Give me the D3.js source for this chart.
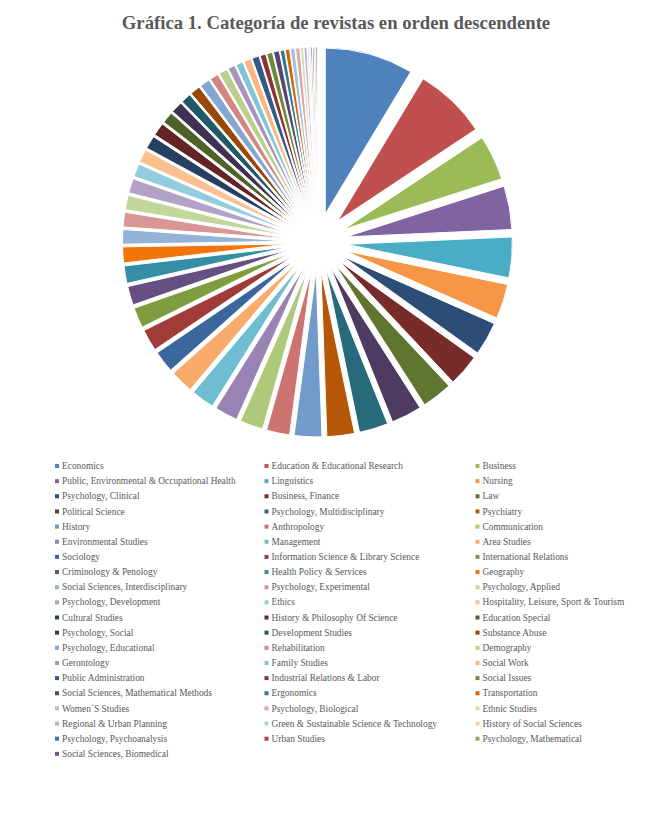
<!DOCTYPE html>
<html>
<head>
<meta charset="utf-8">
<script src="https://cdn.jsdelivr.net/npm/d3@7"></script>
<style>
  body { margin: 0; background: #fff; }
</style>
</head>
<body>
<div id="grafica"></div>
<script>
// categorias WoS, en el orden del grafico (descendente)
var categorias = [
  "Economics", "Education & Educational Research", "Business",
  "Public, Environmental & Occupational Health", "Linguistics", "Nursing",
  "Psychology, Clinical", "Business, Finance", "Law",
  "Political Science", "Psychology, Multidisciplinary", "Psychiatry",
  "History", "Anthropology", "Communication",
  "Environmental Studies", "Management", "Area Studies",
  "Sociology", "Information Science & Library Science", "International Relations",
  "Criminology & Penology", "Health Policy & Services", "Geography",
  "Social Sciences, Interdisciplinary", "Psychology, Experimental", "Psychology, Applied",
  "Psychology, Development", "Ethics", "Hospitality, Leisure, Sport & Tourism",
  "Cultural Studies", "History & Philosophy Of Science", "Education Special",
  "Psychology, Social", "Development Studies", "Substance Abuse",
  "Psychology, Educational", "Rehabilitation", "Demography",
  "Gerontology", "Family Studies", "Social Work",
  "Public Administration", "Industrial Relations & Labor", "Social Issues",
  "Social Sciences, Mathematical Methods", "Ergonomics", "Transportation",
  "Women´S Studies", "Psychology, Biological", "Ethnic Studies",
  "Regional & Urban Planning", "Green & Sustainable Science & Technology", "History of Social Sciences",
  "Psychology, Psychoanalysis", "Urban Studies", "Psychology, Mathematical",
  "Social Sciences, Biomedical"
];

// numero de revistas por categoria
var revistas = [
  61, 50, 31, 30, 28, 24, 23, 22, 21, 21,
  20, 19, 19, 16, 16, 16, 16, 16, 15, 15,
  14, 13, 12, 11, 10, 10, 10, 10, 9, 9,
  9, 9, 8, 8, 7, 7, 7, 6, 6, 5,
  5, 5, 5, 4, 4, 4, 3, 3, 3, 3,
  2, 2, 1, 1, 1, 1, 1, 1
];

// paleta de Office: 6 acentos y sus variaciones de luminosidad
var acentos = ["#4F81BD", "#C0504D", "#9BBB59", "#8064A2", "#4BACC6", "#F79646"];
var variaciones = [
  [1, 0], [0.6, 0], [0.8, 0.2], [0.8, 0], [0.6, 0.4],
  [0.5, 0], [0.7, 0.3], [0.7, 0], [0.5, 0.5], [0.9, 0]
];

function colorDe(i) {
  var c = d3.hsl(acentos[i % 6]);
  var v = variaciones[Math.floor(i / 6) % variaciones.length];
  c.l = c.l * v[0] + v[1];
  return c.formatHex();
}

var width = 672, height = 827;
var cx = 317.5, cy = 242, radio = 166, separacion = 29;

var svg = d3.select("#grafica")
  .append("svg")
    .attr("width", width)
    .attr("height", height)
    .style("font-family", "'Liberation Serif', 'Times New Roman', serif");

// titulo
svg.append("text")
  .attr("x", 336)
  .attr("y", 29)
  .attr("text-anchor", "middle")
  .style("font-size", "18.7px")
  .style("font-weight", "bold")
  .style("fill", "#595959")
  .text("Gráfica 1. Categoría de revistas en orden descendente");

// pastel con todas las porciones separadas
var pie = d3.pie().sort(null).value(function(d) { return d; });
var arc = d3.arc().innerRadius(0).outerRadius(radio);

var porciones = pie(revistas);

var g = svg.append("g")
  .attr("transform", "translate(" + cx + "," + cy + ")");

g.selectAll("path")
  .data(porciones)
  .enter().append("path")
    .attr("d", arc)
    .attr("transform", function(d) {
      var a = (d.startAngle + d.endAngle) / 2;
      return "translate(" + (Math.sin(a) * separacion) + "," + (-Math.cos(a) * separacion) + ")";
    })
    .style("fill", function(d, i) { return colorDe(i); })
    .style("stroke", "#fff")
    .style("stroke-width", 1);

// leyenda en tres columnas
var colX = [55, 264.5, 475.5];
var filaY0 = 466, filaAlto = 15.15;

var leyenda = svg.append("g")
  .selectAll("g")
  .data(categorias)
  .enter().append("g")
    .attr("transform", function(d, i) {
      return "translate(" + colX[i % 3] + "," + (filaY0 + Math.floor(i / 3) * filaAlto) + ")";
    });

leyenda.append("rect")
  .attr("x", 0).attr("y", -2)
  .attr("width", 4).attr("height", 4)
  .style("fill", function(d, i) { return colorDe(i); });

leyenda.append("text")
  .attr("x", 7)
  .attr("y", 0)
  .attr("dy", "0.33em")
  .style("font-size", "9.4px")
  .style("fill", "#595959")
  .text(function(d) { return d; });
</script>
</body>
</html>
